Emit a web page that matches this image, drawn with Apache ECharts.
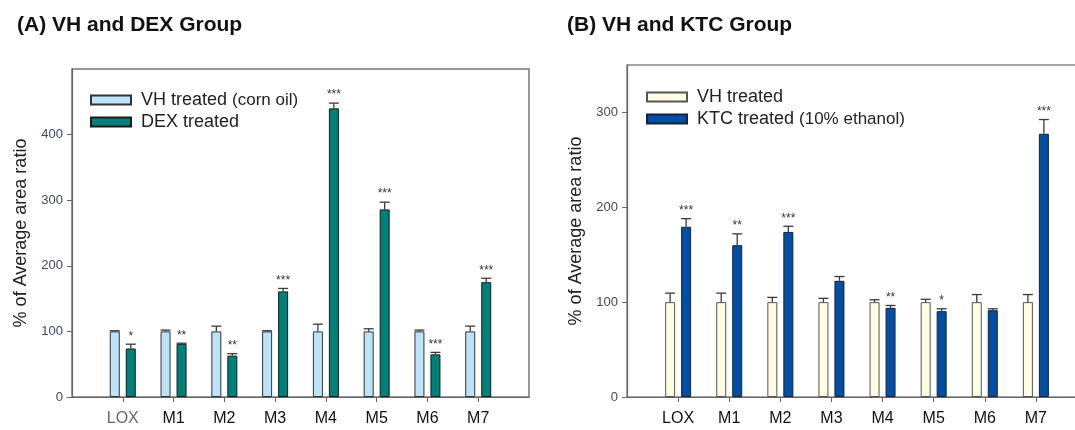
<!DOCTYPE html>
<html>
<head>
<meta charset="utf-8">
<script src="https://cdn.jsdelivr.net/npm/echarts@6/dist/echarts.min.js"></script>
<style>
  html, body { margin: 0; padding: 0; background: #fff; }
  #chart { width: 1075px; height: 430px; }
</style>
</head>
<body>
<div id="chart"></div>
<script>
// categories (empty slots at both ends give the extra space seen in the figure)
const categories = ['LOX', 'M1', 'M2', 'M3', 'M4', 'M5', 'M6', 'M7'];
const axisCats = [' '].concat(categories, ['  ']);

// (A) VH and DEX
const vhA = [100, 100, 100, 100, 100, 100, 100, 100];
const vhAErr = [1, 2, 8, 1, 11, 4, 2, 8];
const dexA = [74, 81, 63, 161, 440, 286, 65, 175];
const dexAErr = [6.5, 1, 3, 4.5, 8, 11, 3, 6];
const dexAStars = ['*', '**', '**', '***', '***', '***', '***', '***'];

// (B) VH and KTC
const vhB = [100, 100, 100, 100, 100, 100, 100, 100];
const vhBErr = [9.5, 9.5, 5, 4, 2.5, 3, 8, 8];
const ktcB = [179.5, 160, 174, 122.5, 94, 90.5, 91.5, 277.5];
const ktcBErr = [8.5, 12, 6, 4.5, 2.5, 2.5, 1.5, 15];
const ktcBStars = ['***', '**', '***', '', '**', '*', '', '***'];

const FONT = 'Liberation Sans, Arial, sans-serif';
const BAR_W = 10;
const BAR_GAP = 6;

const chart = echarts.init(document.getElementById('chart'));

function padData(arr) {
  return ['-'].concat(arr, ['-']);
}

// error bars + significance marks drawn with a custom series
function errSeries(name, gridIdx, vals, errs, stars, side) {
  const data = vals.map((v, i) => [i + 1, v, errs[i]]);
  return {
    name: name,
    type: 'custom',
    xAxisIndex: gridIdx,
    yAxisIndex: gridIdx,
    z: 5,
    clip: false,
    silent: true,
    encode: { x: 0, y: 1 },
    data: data,
    renderItem: function (params, api) {
      const x = api.value(0);
      const v = api.value(1);
      const e = api.value(2);
      const base = api.coord([x, v]);
      const top = api.coord([x, v + e]);
      const cx = base[0] + side * (BAR_W + BAR_GAP) / 2;
      const st = { stroke: '#3a3a3a', lineWidth: 1.3 };
      const children = [
        { type: 'line', shape: { x1: cx, y1: base[1], x2: cx, y2: top[1] }, style: st },
        { type: 'line', shape: { x1: cx - 5, y1: top[1], x2: cx + 5, y2: top[1] }, style: st }
      ];
      const s = stars ? stars[params.dataIndex] : '';
      if (s) {
        children.push({
          type: 'text',
          x: cx,
          y: top[1] - 2,
          style: {
            text: s,
            fill: '#333',
            font: '12px ' + FONT,
            align: 'center',
            verticalAlign: 'bottom'
          }
        });
      }
      return { type: 'group', children: children };
    }
  };
}

function xAxisFor(gridIdx, greyLox) {
  return {
    type: 'category',
    gridIndex: gridIdx,
    data: axisCats,
    boundaryGap: false,
    axisLine: { lineStyle: { color: '#666', width: 1.2 } },
    axisTick: {
      length: 5,
      interval: function (idx, val) { return val.trim() !== ''; },
      lineStyle: { color: '#666' }
    },
    axisLabel: {
      interval: 0,
      margin: 14,
      fontSize: 16,
      fontFamily: FONT,
      color: '#111',
      formatter: function (v) {
        return (greyLox && v === 'LOX') ? '{g|LOX}' : v;
      },
      rich: { g: { color: '#666', fontSize: 16, fontFamily: FONT } }
    },
    splitLine: { show: false }
  };
}

function yAxisFor(gridIdx, max, ticks) {
  return {
    type: 'value',
    gridIndex: gridIdx,
    min: 0,
    max: max,
    interval: 100,
    name: '% of Average area ratio',
    nameLocation: 'middle',
    nameGap: 42,
    nameTextStyle: { fontSize: 18, fontFamily: FONT, color: '#222' },
    axisLine: { show: true, lineStyle: { color: '#666', width: 1.2 } },
    axisTick: { show: true, length: 5, customValues: ticks, lineStyle: { color: '#666' } },
    axisLabel: { customValues: ticks, margin: 9, fontSize: 13, fontFamily: FONT, color: '#3d4a5c' },
    splitLine: { show: false }
  };
}

const option = {
  animation: false,
  backgroundColor: '#fff',
  textStyle: { fontFamily: FONT },
  title: [
    { text: '(A) VH and DEX Group', left: 12, top: 10,
      textStyle: { fontSize: 21, fontWeight: 'bold', color: '#111', fontFamily: FONT } },
    { text: '(B) VH and KTC Group', left: 562, top: 10,
      textStyle: { fontSize: 21, fontWeight: 'bold', color: '#111', fontFamily: FONT } }
  ],
  legend: [
    {
      data: ['VH treated (corn oil)', 'DEX treated'],
      orient: 'vertical', left: 90, top: 91, padding: 0,
      icon: 'rect',
      itemWidth: 40, itemHeight: 9, itemGap: 4,
      formatter: function (n) {
        return n === 'VH treated (corn oil)' ? 'VH treated {s|(corn oil)}' : n;
      },
      textStyle: { fontSize: 18, color: '#222', padding: [0, 0, 0, 5],
        rich: { s: { fontSize: 17, color: '#222' } } }
    },
    {
      data: ['VH treated', 'KTC treated (10% ethanol)'],
      orient: 'vertical', left: 646, top: 88, padding: 0,
      icon: 'rect',
      itemWidth: 40, itemHeight: 9, itemGap: 4,
      formatter: function (n) {
        return n === 'KTC treated (10% ethanol)' ? 'KTC treated {s|(10% ethanol)}' : n;
      },
      textStyle: { fontSize: 18, color: '#222', padding: [0, 0, 0, 5],
        rich: { s: { fontSize: 17, color: '#222' } } }
    }
  ],
  grid: [
    { left: 72, top: 69, width: 457, height: 328, show: true, borderColor: '#777', borderWidth: 1.5,
      outerBoundsMode: 'none' },
    { left: 627, top: 65, width: 460, height: 332, show: true, borderColor: '#888', borderWidth: 1.5,
      outerBoundsMode: 'none' }
  ],
  xAxis: [xAxisFor(0, true), xAxisFor(1, false)],
  yAxis: [yAxisFor(0, 500, [0, 100, 200, 300, 400]), yAxisFor(1, 350, [0, 100, 200, 300])],
  series: [
    {
      name: 'VH treated (corn oil)', type: 'bar', xAxisIndex: 0, yAxisIndex: 0,
      data: padData(vhA), barWidth: BAR_W, barGap: (BAR_GAP / BAR_W * 100) + '%',
      itemStyle: { color: '#bde3fb', borderColor: '#333', borderWidth: 1 }
    },
    {
      name: 'DEX treated', type: 'bar', xAxisIndex: 0, yAxisIndex: 0,
      data: padData(dexA), barWidth: BAR_W,
      itemStyle: { color: '#00807a', borderColor: '#1a1a1a', borderWidth: 1 }
    },
    {
      name: 'VH treated', type: 'bar', xAxisIndex: 1, yAxisIndex: 1,
      data: padData(vhB), barWidth: BAR_W, barGap: (BAR_GAP / BAR_W * 100) + '%',
      itemStyle: { color: '#fffde2', borderColor: '#555', borderWidth: 1 }
    },
    {
      name: 'KTC treated (10% ethanol)', type: 'bar', xAxisIndex: 1, yAxisIndex: 1,
      data: padData(ktcB), barWidth: BAR_W,
      itemStyle: { color: '#004fa3', borderColor: '#14223c', borderWidth: 1 }
    },
    errSeries('errVHA', 0, vhA, vhAErr, null, -1),
    errSeries('errDEX', 0, dexA, dexAErr, dexAStars, 1),
    errSeries('errVHB', 1, vhB, vhBErr, null, -1),
    errSeries('errKTC', 1, ktcB, ktcBErr, ktcBStars, 1)
  ]
};

chart.setOption(option);
</script>
</body>
</html>
